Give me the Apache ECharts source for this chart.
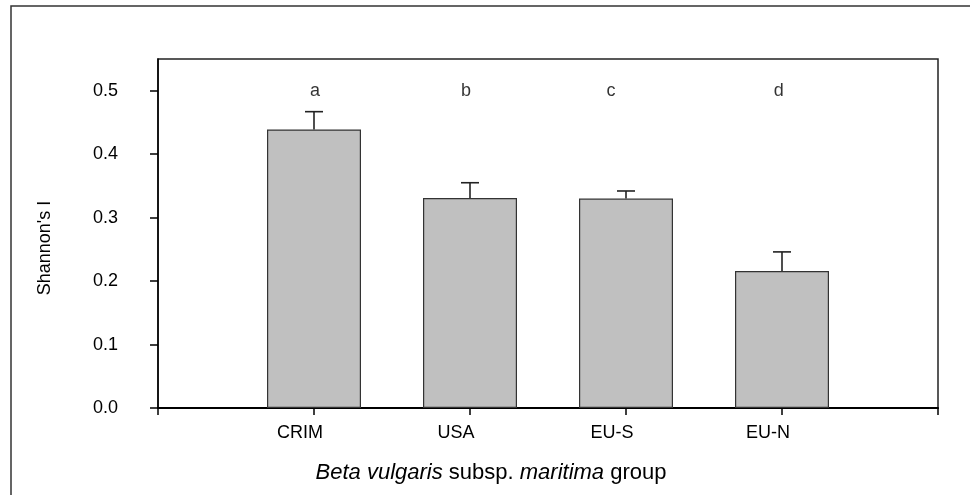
<!DOCTYPE html>
<html>
<head>
<meta charset="utf-8">
<script src="https://cdn.jsdelivr.net/npm/echarts@6/dist/echarts.min.js"></script>
<style>
  html, body { margin: 0; padding: 0; background: #fff; }
  #main { width: 970px; height: 495px; }
</style>
</head>
<body>
<div id="main"></div>
<script>
// groups sit at x = 1..4 on a 0..5 axis
const groups = ['CRIM', 'USA', 'EU-S', 'EU-N'];
const groupPos = [1, 2, 3, 4];
const shannon = [0.439, 0.331, 0.330, 0.216];
const errUp = [0.028, 0.024, 0.012, 0.030];
const letters = ['a', 'b', 'c', 'd'];
const letterPos = [1.006, 1.974, 2.904, 3.98];
const letterY = 0.499;
const yTicks = [0, 0.1, 0.2, 0.3, 0.4, 0.5];

const FONT = 'Liberation Sans, Arial, sans-serif';
var myChart = echarts.init(document.getElementById('main'));

var barData = groupPos.map((x, i) => [x, shannon[i]]);
var errData = groupPos.map((x, i) => [x, shannon[i], shannon[i] + errUp[i]]);
var letterData = letterPos.map((x, i) => [x, letterY, letters[i]]);

var option = {
  animation: false,
  backgroundColor: '#fff',
  grid: { left: 158, top: 59, right: 32, bottom: 87, show: true, borderColor: '#222', borderWidth: 1.5 },
  xAxis: {
    type: 'value',
    min: 0,
    max: 5,
    interval: 1,
    splitLine: { show: false },
    axisLine: { show: true, lineStyle: { color: '#000', width: 2 } },
    axisTick: { show: true, inside: false, length: 7, lineStyle: { color: '#000', width: 1.5 } },
    axisLabel: {
      margin: 16,
      color: '#000',
      fontFamily: FONT,
      fontSize: 18,
      padding: [0, 28, 0, 0],
      formatter: v => groups[groupPos.indexOf(v)] || ''
    }
  },
  yAxis: {
    type: 'value',
    min: 0,
    max: 0.55,
    splitLine: { show: false },
    axisLine: { show: true, lineStyle: { color: '#000', width: 1.5 } },
    axisTick: { show: true, inside: false, length: 8, customValues: yTicks, lineStyle: { color: '#000', width: 1.5 } },
    axisLabel: {
      margin: 40,
      color: '#000',
      fontFamily: FONT,
      fontSize: 18,
      customValues: yTicks,
      formatter: v => v.toFixed(1)
    }
  },
  graphic: [
    {
      type: 'polyline',
      shape: { points: [[11, 500], [11, 6], [975, 6]] },
      style: { stroke: '#333', lineWidth: 1.5, fill: null }
    },
    {
      type: 'text',
      x: 45, y: 248, rotation: Math.PI / 2,
      style: { text: "Shannon's I", font: '18px ' + FONT, fill: '#000', align: 'center', verticalAlign: 'middle' }
    },
    {
      type: 'text',
      x: 491, y: 473,
      style: {
        text: '{i|Beta vulgaris} subsp. {i|maritima} group',
        font: '22px ' + FONT,
        fill: '#000',
        align: 'center',
        verticalAlign: 'middle',
        rich: { i: { fontStyle: 'italic', fontSize: 22, fontFamily: FONT, fill: '#000' } }
      }
    }
  ],
  series: [{
    type: 'bar',
    barWidth: 94,
    data: barData,
    itemStyle: { color: '#c0c0c0', borderColor: '#333', borderWidth: 1.2 },
    z: 2
  }, {
    type: 'custom',
    data: errData,
    z: 3,
    renderItem: function (params, api) {
      var x = api.value(0);
      var base = api.coord([x, api.value(1)]);
      var top = api.coord([x, api.value(2)]);
      var cap = 9;
      return {
        type: 'group',
        children: [{
          type: 'line',
          shape: { x1: base[0], y1: base[1], x2: top[0], y2: top[1] },
          style: { stroke: '#222', lineWidth: 1.6 }
        }, {
          type: 'line',
          shape: { x1: top[0] - cap, y1: top[1], x2: top[0] + cap, y2: top[1] },
          style: { stroke: '#222', lineWidth: 1.6 }
        }]
      };
    }
  }, {
    type: 'scatter',
    data: letterData,
    symbolSize: 0,
    label: {
      show: true,
      position: 'inside',
      color: '#000',
      fontFamily: FONT,
      fontSize: 18,
      formatter: p => p.data[2]
    }
  }]
};
myChart.setOption(option);
</script>
</body>
</html>
